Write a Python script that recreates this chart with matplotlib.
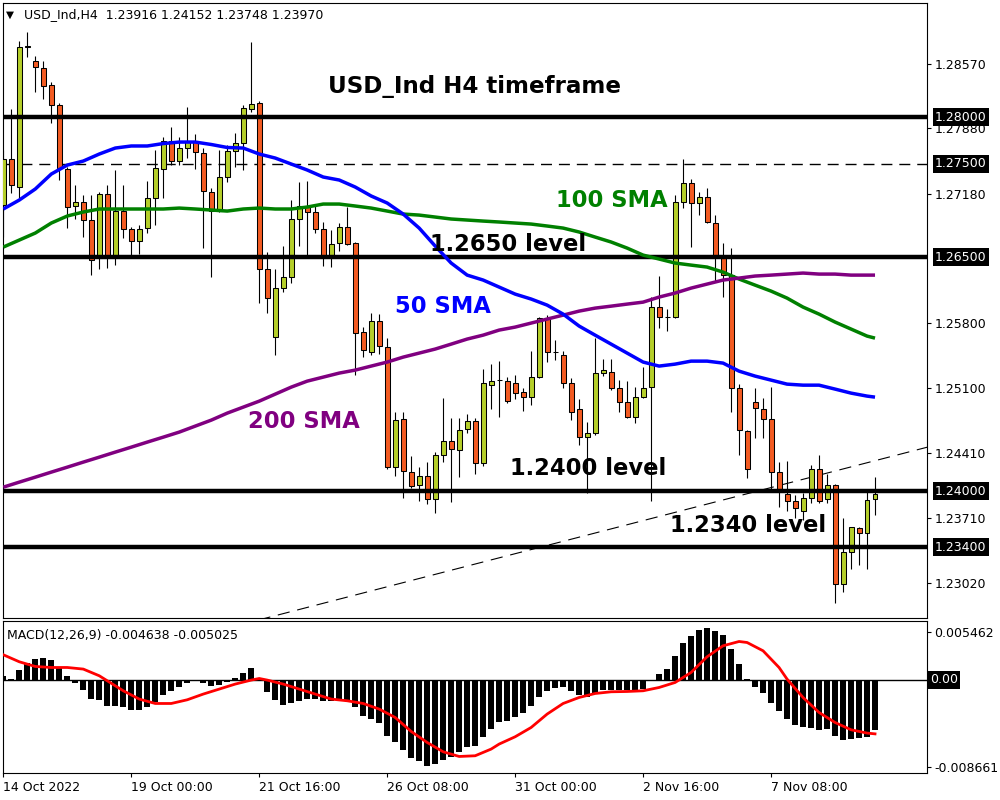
import matplotlib
matplotlib.use('Agg')
import matplotlib.pyplot as plt
import matplotlib.transforms as mtransforms

# ---------------- data ----------------
opens = [1.2706, 1.2755, 1.2725, 1.2875, 1.2860, 1.2852, 1.2834, 1.2813, 1.2744, 1.2705,
         1.2709, 1.2690, 1.2649, 1.2718, 1.2650, 1.2700, 1.2680, 1.2667, 1.2681, 1.2713,
         1.2744, 1.2774, 1.2753, 1.2767, 1.2774, 1.2761, 1.2720, 1.2700, 1.2736, 1.2764,
         1.2772, 1.2809, 1.2815, 1.2637, 1.2565, 1.2617, 1.2629, 1.2691, 1.2705, 1.2698,
         1.2680, 1.2651, 1.2665, 1.2682, 1.2665, 1.2570, 1.2549, 1.2582, 1.2554, 1.2426,
         1.2477, 1.2420, 1.2406, 1.2416, 1.2391, 1.2438, 1.2454, 1.2444, 1.2466, 1.2475,
         1.2430, 1.2513, 1.2519, 1.2518, 1.2515, 1.2506, 1.2501, 1.2522, 1.2585, 1.2549,
         1.2545, 1.2516, 1.2488, 1.2458, 1.2462, 1.2526, 1.2527, 1.2510, 1.2495, 1.2479,
         1.2501, 1.2511, 1.2597, 1.2586, 1.2586, 1.2709, 1.2729, 1.2708, 1.2714, 1.2687,
         1.2650, 1.2631, 1.2510, 1.2464, 1.2495, 1.2488, 1.2477, 1.2420, 1.2397, 1.2389,
         1.2379, 1.2393, 1.2424, 1.2391, 1.2406, 1.2301, 1.2335, 1.2360, 1.2355, 1.23916]
highs = [1.2765, 1.2809, 1.2881, 1.2891, 1.2865, 1.2860, 1.2837, 1.2815, 1.2747, 1.2727,
         1.2717, 1.2717, 1.2720, 1.2727, 1.2743, 1.2727, 1.2682, 1.2684, 1.2732, 1.2765,
         1.2779, 1.2789, 1.2779, 1.2811, 1.2782, 1.2767, 1.2724, 1.2765, 1.2770, 1.2783,
         1.2813, 1.2880, 1.2817, 1.2656, 1.2637, 1.2662, 1.2711, 1.2730, 1.2732, 1.2706,
         1.2688, 1.2679, 1.2687, 1.2704, 1.2666, 1.2575, 1.2590, 1.2589, 1.2564, 1.2485,
         1.2484, 1.2437, 1.2426, 1.2431, 1.2442, 1.2499, 1.2478, 1.2478, 1.2482, 1.2478,
         1.2531, 1.2536, 1.2539, 1.2522, 1.2524, 1.2510, 1.2550, 1.2586, 1.2588, 1.2562,
         1.2550, 1.2521, 1.2498, 1.2474, 1.2564, 1.2541, 1.2541, 1.2519, 1.2518, 1.2511,
         1.2533, 1.2607, 1.2630, 1.2595, 1.2717, 1.2755, 1.2734, 1.2720, 1.2724, 1.2695,
         1.2665, 1.2660, 1.2514, 1.2465, 1.2510, 1.2500, 1.2511, 1.2431, 1.2432, 1.2396,
         1.2398, 1.2428, 1.2439, 1.2418, 1.2407, 1.2371, 1.2362, 1.2362, 1.2400, 1.24152]
lows = [1.2672, 1.2719, 1.2713, 1.2864, 1.2827, 1.2819, 1.2794, 1.2733, 1.2681, 1.2691,
        1.2672, 1.2631, 1.2637, 1.2638, 1.2642, 1.2671, 1.2650, 1.2654, 1.2676, 1.2684,
        1.2713, 1.2749, 1.2749, 1.2756, 1.2744, 1.2660, 1.2629, 1.2698, 1.2730, 1.2747,
        1.2743, 1.2805, 1.2601, 1.2590, 1.2545, 1.2613, 1.2622, 1.2662, 1.2650, 1.2676,
        1.2641, 1.2640, 1.2657, 1.2663, 1.2524, 1.2543, 1.2545, 1.2546, 1.2423, 1.2416,
        1.2393, 1.2403, 1.2389, 1.2386, 1.2376, 1.2431, 1.2388, 1.2415, 1.2462, 1.2418,
        1.2427, 1.2488, 1.2479, 1.2494, 1.2498, 1.2486, 1.2492, 1.2521, 1.2538, 1.2540,
        1.2510, 1.2476, 1.2449, 1.2398, 1.2460, 1.2523, 1.2508, 1.2484, 1.2478, 1.2473,
        1.2500, 1.2389, 1.2574, 1.2571, 1.2585, 1.2703, 1.2661, 1.2695, 1.2687, 1.2623,
        1.2607, 1.2484, 1.2438, 1.2414, 1.2457, 1.2457, 1.2401, 1.2383, 1.2379, 1.2371,
        1.2369, 1.2387, 1.2387, 1.2387, 1.2280, 1.2292, 1.2317, 1.2321, 1.2317, 1.23748]
closes = [1.2755, 1.2727, 1.2875, 1.2876, 1.2854, 1.2833, 1.2813, 1.2745, 1.2704, 1.2709,
          1.2690, 1.2647, 1.2718, 1.2650, 1.2700, 1.2680, 1.2667, 1.2680, 1.2713, 1.2745,
          1.2774, 1.2753, 1.2767, 1.2774, 1.2763, 1.2721, 1.2700, 1.2736, 1.2764, 1.2772,
          1.2810, 1.2814, 1.2637, 1.2606, 1.2617, 1.2629, 1.2691, 1.2705, 1.2698, 1.2680,
          1.2650, 1.2664, 1.2682, 1.2664, 1.2569, 1.2551, 1.2582, 1.2555, 1.2426, 1.2476,
          1.2421, 1.2405, 1.2416, 1.2391, 1.2438, 1.2454, 1.2445, 1.2465, 1.2475, 1.2430,
          1.2515, 1.2518, 1.25185, 1.2496, 1.2505, 1.2501, 1.2522, 1.2585, 1.2549, 1.25485,
          1.2516, 1.2485, 1.2458, 1.2462, 1.2526, 1.2529, 1.2510, 1.2495, 1.2479, 1.2501,
          1.2510, 1.2597, 1.2586, 1.25865, 1.2709, 1.2729, 1.2708, 1.2714, 1.2688, 1.2651,
          1.2631, 1.2510, 1.2465, 1.2424, 1.2489, 1.2477, 1.2420, 1.2400, 1.2389, 1.2382,
          1.2393, 1.2423, 1.2389, 1.2406, 1.2301, 1.2335, 1.2361, 1.2355, 1.2390, 1.23970]

sma_idx = list(range(0, 110, 2)) + [109]
sma50 = [1.27016, 1.27112, 1.27230, 1.27390, 1.27486, 1.27529, 1.27604, 1.27668, 1.27690, 1.27690,
         1.27716, 1.27732, 1.27732, 1.27706, 1.27674, 1.27668, 1.27604, 1.27561, 1.27497, 1.27433,
         1.27358, 1.27326, 1.27251, 1.27155, 1.27080, 1.26962, 1.26812, 1.26620, 1.26438, 1.26309,
         1.26256, 1.26181, 1.26106, 1.26053, 1.25988, 1.25892, 1.25764, 1.25667, 1.25571, 1.25475,
         1.25379, 1.25336, 1.25357, 1.25389, 1.25389, 1.25368, 1.25282, 1.25229, 1.25186, 1.25143,
         1.25132, 1.25132, 1.25090, 1.25047, 1.25015, 1.25004]
sma100 = [1.26609, 1.26684, 1.26759, 1.26866, 1.26941, 1.26984, 1.27016, 1.27016, 1.27016, 1.27016,
          1.27016, 1.27026, 1.27016, 1.27005, 1.26994, 1.27016, 1.27026, 1.27016, 1.27016, 1.27037,
          1.27069, 1.27069, 1.27048, 1.27026, 1.26994, 1.26962, 1.26951, 1.26930, 1.26909, 1.26898,
          1.26887, 1.26877, 1.26866, 1.26855, 1.26834, 1.26812, 1.26770, 1.26716, 1.26663, 1.26598,
          1.26523, 1.26481, 1.26438, 1.26416, 1.26395, 1.26341, 1.26267, 1.26202, 1.26138, 1.26063,
          1.25967, 1.25892, 1.25807, 1.25732, 1.25657, 1.25635]
sma200 = [1.24041, 1.24095, 1.24148, 1.24202, 1.24255, 1.24309, 1.24362, 1.24416, 1.24469, 1.24523,
          1.24576, 1.24630, 1.24694, 1.24758, 1.24833, 1.24897, 1.24961, 1.25036, 1.25111, 1.25175,
          1.25218, 1.25261, 1.25293, 1.25336, 1.25379, 1.25432, 1.25475, 1.25518, 1.25571, 1.25625,
          1.25667, 1.25721, 1.25753, 1.25796, 1.25839, 1.25881, 1.25924, 1.25956, 1.25977, 1.25999,
          1.26020, 1.26074, 1.26117, 1.26170, 1.26213, 1.26256, 1.26277, 1.26299, 1.26309, 1.26320,
          1.26331, 1.26320, 1.26320, 1.26309, 1.26309, 1.26309]

macd_hist = [0.000372, 0.000093, 0.000901, 0.001514, 0.001923, 0.002044, 0.001830, 0.001143, 0.000372, -0.000307,
             -0.000957, -0.001793, -0.001886, -0.002415, -0.002415, -0.002573, -0.002787, -0.002787, -0.002508, -0.002109,
             -0.001394, -0.001022, -0.000650, -0.000307, -0.000093, -0.000307, -0.000557, -0.000492, -0.000251, 0.000158,
             0.000585, 0.001087, 0.000065, -0.001115, -0.001858, -0.002323, -0.002202, -0.001951, -0.001793, -0.001793,
             -0.002016, -0.002016, -0.002016, -0.002016, -0.002573, -0.003344, -0.003651, -0.004023, -0.005202, -0.005760,
             -0.006503, -0.007311, -0.007525, -0.007989, -0.007831, -0.007460, -0.007153, -0.006754, -0.006224, -0.006131,
             -0.005295, -0.004580, -0.003967, -0.003874, -0.003502, -0.003131, -0.002415, -0.001579, -0.001087, -0.000771,
             -0.000715, -0.001022, -0.001394, -0.001644, -0.001273, -0.000957, -0.000957, -0.000957, -0.000957, -0.000957,
             -0.000864, -0.000046, 0.000530, 0.000994, 0.002165, 0.003372, 0.004060, 0.004645, 0.004803, 0.004552,
             0.004181, 0.002852, 0.001459, 0.000028, -0.000650, -0.001236, -0.002165, -0.002880, -0.003651, -0.004181,
             -0.004431, -0.004487, -0.004673, -0.004580, -0.005267, -0.005574, -0.005509, -0.005416, -0.005295, -0.004638]
sig_idx = [0, 2, 4, 6, 8, 10, 12, 13, 15, 17, 19, 21, 23, 25, 27, 29, 31, 32, 33, 35, 37, 39, 41, 43, 45, 47,
           49, 51, 53, 55, 57, 59, 61, 62, 64, 66, 68, 70, 72, 74, 76, 78, 80, 82, 84, 86, 88, 90, 92, 93,
           95, 97, 98, 100, 102, 104, 106, 108, 109]
sig_val = [0.002323, 0.001672, 0.001236, 0.001143, 0.001143, 0.000994, 0.000372, -0.000093, -0.001022, -0.001793,
           -0.002202, -0.002202, -0.001858, -0.001328, -0.000864, -0.000399, -0.000028, 0.000121, -0.000028, -0.000399,
           -0.000864, -0.001328, -0.001793, -0.001951, -0.002202, -0.002722, -0.003502, -0.004803, -0.005825, -0.006689,
           -0.007125, -0.007060, -0.006438, -0.005973, -0.005295, -0.004431, -0.003186, -0.002202, -0.001644, -0.001273,
           -0.001115, -0.001087, -0.001022, -0.000715, -0.000251, 0.000678, 0.002137, 0.003159, 0.003558, 0.003465,
           0.002694, 0.001143, 0.000065, -0.001644, -0.003038, -0.003967, -0.004645, -0.004952, -0.005025]

levels_solid = [1.2800, 1.2650, 1.2400, 1.2340]
level_dashed = 1.2750
trend_x = [31.9, 115.6]
trend_y = [1.2262, 1.2447]

price_ticks = [1.28570, 1.27880, 1.27180, 1.25800, 1.25100, 1.24410, 1.23710, 1.23020]
price_tick_labels = ['1.28570', '1.27880', '1.27180', '1.25800', '1.25100', '1.24410', '1.23710', '1.23020']
boxed_levels = [1.28000, 1.27500, 1.26500, 1.24000, 1.23400]
boxed_labels = ['1.28000', '1.27500', '1.26500', '1.24000', '1.23400']

date_ticks = [0, 16, 32, 48, 64, 80, 96]
date_labels = ['14 Oct 2022', '19 Oct 00:00', '21 Oct 16:00', '26 Oct 08:00',
               '31 Oct 00:00', '2 Nov 16:00', '7 Nov 08:00']

header = 'USD_Ind,H4  1.23916 1.24152 1.23748 1.23970'
macd_title = 'MACD(12,26,9) -0.004638 -0.005025'
macd_top, macd_bottom = 0.005462, -0.008661

BULL = '#b5cf2a'
BEAR = '#f35b22'

# ---------------- figure ----------------
plt.rcParams['font.family'] = ['DejaVu Sans']
fig = plt.figure(figsize=(10, 8), dpi=100)
W, H = 1000.0, 800.0

def fx(px):
    return px / W

def fy(py):
    return 1 - py / H

ax = fig.add_axes([fx(3), fy(618), 924 / W, 615 / H])
ax2 = fig.add_axes([fx(3), fy(773), 924 / W, 152 / H])

for a in (ax, ax2):
    for s in a.spines.values():
        s.set_linewidth(0.8)
        s.set_color('black')

n = len(opens)
idx = list(range(n))

# wicks
ax.vlines(idx, lows, highs, color='black', lw=0.8, zorder=3)
# bodies
bottoms = [min(o, c) for o, c in zip(opens, closes)]
heights = [abs(c - o) for o, c in zip(opens, closes)]
colors = [BULL if c >= o else BEAR for o, c in zip(opens, closes)]
ax.bar(idx, heights, bottom=bottoms, width=0.62, color=colors,
       edgecolor='black', linewidth=0.75, zorder=4)

# levels
for lv in levels_solid:
    ax.axhline(lv, color='black', lw=3.2, zorder=5)
ax.axhline(level_dashed, color='black', lw=1.0, dashes=(7.9, 5), zorder=2)
ax.plot(trend_x, trend_y, color='black', lw=0.8, dashes=(11, 7), zorder=2)

# SMAs
ax.plot(sma_idx, sma100, color='#008000', lw=2.5, zorder=6, solid_capstyle='butt')
ax.plot(sma_idx, sma200, color='#800080', lw=2.5, zorder=6, solid_capstyle='butt')
ax.plot(sma_idx, sma50, color='#0000ff', lw=2.5, zorder=6, solid_capstyle='butt')

ax.set_xlim(-0.04, 115.5)
ax.set_ylim(1.226417, 1.292193)
ax.set_xticks([])
ax.yaxis.tick_right()
ax.set_yticks(price_ticks)
ax.set_yticklabels(price_tick_labels)
ax.tick_params(axis='y', direction='out', length=3, width=0.8, pad=2.5, labelsize=9)

trans = mtransforms.blended_transform_factory(ax.transAxes, ax.transData)
for lv, lab in zip(boxed_levels, boxed_labels):
    ax.text(1.0087, lv, lab, transform=trans, color='white', fontsize=9,
            ha='left', va='center', clip_on=False, zorder=10,
            bbox=dict(boxstyle='square,pad=0.2', fc='black', ec='none'))

# annotations
bold = dict(family='DejaVu Sans', fontweight='bold', va='baseline')
fig.text(fx(328), fy(93.5), 'USD_Ind H4 timeframe', fontsize=16.6, color='black', **bold)
fig.text(fx(556), fy(207), '100 SMA', fontsize=16.3, color='#008000', **bold)
fig.text(fx(430), fy(251), '1.2650 level', fontsize=16.3, color='black', **bold)
fig.text(fx(395), fy(313), '50 SMA', fontsize=16.3, color='#0000ff', **bold)
fig.text(fx(248), fy(428), '200 SMA', fontsize=16.3, color='#800080', **bold)
fig.text(fx(510), fy(475), '1.2400 level', fontsize=16.3, color='black', **bold)
fig.text(fx(670), fy(532), '1.2340 level', fontsize=16.3, color='black', **bold)

fig.text(fx(6), fy(17.5), '\u25BC', fontsize=7.5, va='baseline', color='black')
fig.text(fx(24), fy(18.5), header, fontsize=9, va='baseline', color='black')

# ---------------- MACD ----------------
ax2.bar(idx, macd_hist, width=0.78, color='black', zorder=3)
ax2.axhline(0, color='black', lw=1.0, zorder=2)
ax2.plot(sig_idx, sig_val, color='#ff0000', lw=2.0, zorder=4)
ax2.set_xlim(-0.04, 115.5)
ax2.set_ylim(macd_bottom, macd_top)

rng = macd_top - macd_bottom
ax2.yaxis.tick_right()
ax2.set_yticks([macd_bottom + 0.93 * rng, macd_bottom + 0.041 * rng])
ax2.set_yticklabels(['0.005462', '-0.008661'])
ax2.tick_params(axis='y', direction='out', length=3, width=0.8, pad=2.0, labelsize=9)
trans2 = mtransforms.blended_transform_factory(ax2.transAxes, ax2.transData)
ax2.text(1.0032, 0.0, '0.00', transform=trans2, color='white', fontsize=9,
         ha='left', va='center', clip_on=False, zorder=10,
         bbox=dict(boxstyle='square,pad=0.2', fc='black', ec='none'))

ax2.set_xticks(date_ticks)
ax2.set_xticklabels(date_labels, ha='left')
ax2.tick_params(axis='x', direction='out', length=3, width=0.8, pad=2.5, labelsize=9)

fig.text(fx(7), fy(638.5), macd_title, fontsize=9, va='baseline', color='black')

fig.savefig('out.png', dpi=100, facecolor='white')
